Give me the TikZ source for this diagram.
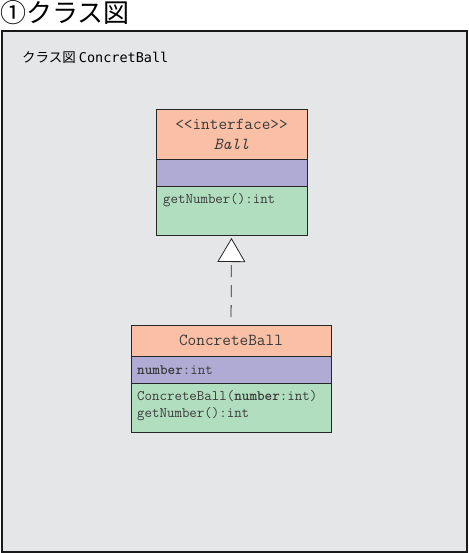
\documentclass[tikz,border=0pt]{standalone}
\usepackage{fontspec}
\usepackage{xcolor}
\usepackage{tikz}
\usetikzlibrary{arrows.meta, positioning}
\newfontfamily\cjk{Noto Sans CJK JP}
\newfontfamily\monolabel{DejaVu Sans Mono}
\definecolor{panelgray}{RGB}{229, 230, 232}
\definecolor{headsalmon}{RGB}{250, 192, 166}
\definecolor{attrpurple}{RGB}{176, 171, 212}
\definecolor{methgreen}{RGB}{178, 222, 192}
\definecolor{inkgray}{RGB}{58, 58, 58}

\begin{document}
\begin{tikzpicture}[x=1pt, y=-1pt, font=\ttfamily\fontsize{14.5}{17}\selectfont, >=Stealth,
  cls/.style={draw=black!85, line width=0.8pt, inner sep=0pt, outer sep=0pt, text=inkgray},
  clshead/.style={cls, fill=headsalmon, align=center,
                  font=\ttfamily\fontsize{16.8}{20}\selectfont},
  clsattr/.style={cls, fill=attrpurple, minimum height=27pt},
  clsmeth/.style={cls, fill=methgreen, minimum height=49pt},
  member/.style={anchor=west, inner sep=0pt, text=inkgray, align=left}]
  \useasboundingbox (0,0) rectangle (468,553);
  % title and panel
  \node[anchor=west, inner sep=0pt, font=\cjk\fontsize{26}{30}\selectfont] (title) at (0,13) {①クラス図};
  \draw[fill=panelgray, draw=black!90, line width=1.6pt] (2,31) rectangle (467,552);
  \node[anchor=west, inner sep=0pt, font=\fontsize{13.5}{16}\selectfont] (panellabel) at (22,58)
    {\cjk クラス図 \monolabel ConcretBall};
  % interface Ball
  \node[clshead, minimum width=151pt, minimum height=50pt] (ballhead) at (231.5,134)
    {{<}{<}interface{>}{>}\\\textit{Ball}};
  \node[clsattr, minimum width=151pt, below=0pt of ballhead] (ballattr) {};
  \node[clsmeth, minimum width=151pt, below=0pt of ballattr] (ballmeth) {};
  \node[member] (ballop) at (163,200) {getNumber():int};
  % class ConcreteBall
  \node[clshead, minimum width=200pt, minimum height=31pt] (cbhead) at (231,340.5) {ConcreteBall};
  \node[clsattr, minimum width=200pt, below=0pt of cbhead] (cbattr) {};
  \node[clsmeth, minimum width=200pt, below=0pt of cbattr] (cbmeth) {};
  \node[member] (cbfield) at (137,370) {\textbf{number}:int};
  \node[member] (cbops) at (137,405.5) {ConcreteBall(\textbf{number}:int)\\getNumber():int};
  % realization
  \draw[black!85, line width=0.8pt, dash pattern=on 12pt off 8pt, dash phase=12pt, shorten >=3pt,
        -{Triangle[open, length=24pt, width=28pt, fill=white, line width=0.8pt]}]
    (cbhead.north) -- (ballmeth.south);
\end{tikzpicture}
\end{document}
